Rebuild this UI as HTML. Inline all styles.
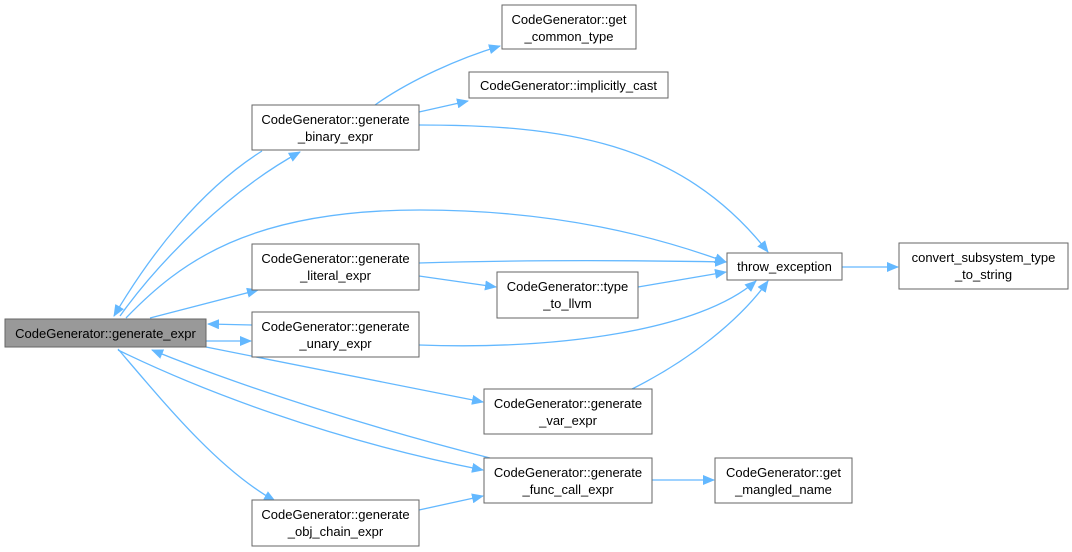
<!DOCTYPE html>
<html><head><meta charset="utf-8"><style>
body{margin:0;background:#fff;}
svg{display:block;}
text{font-family:"Liberation Sans",sans-serif;font-size:13px;fill:#000;text-anchor:middle;}
.n{fill:#fff;stroke:#666;stroke-width:1;}
.e{fill:none;stroke:#63b8ff;stroke-width:1.3;}
</style></head><body>
<svg width="1072" height="552" viewBox="0 0 1072 552">
<defs><marker id="a" markerWidth="12" markerHeight="10" refX="11" refY="5" orient="auto" markerUnits="userSpaceOnUse"><path d="M0,0 L12,5 L0,10 z" fill="#63b8ff"/></marker></defs>
<g class="e" marker-end="url(#a)">
<path d="M120,316 C160,260 230,190 300,152"/>
<path d="M262,151 C200,190 150,255 114,316"/>
<path d="M126,318 C180,262 250,210 420,210 C560,210 660,238 726,262"/>
<path d="M150,318 L258,290"/>
<path d="M252,325 L208,324"/>
<path d="M206,341 L251,341"/>
<path d="M206,347 L483,402"/>
<path d="M490,458 C380,430 250,390 152,350"/>
<path d="M118,350 C200,390 330,440 483,470"/>
<path d="M118,349 C170,410 220,470 275,501"/>
<path d="M419,510 L483,496"/>
<path d="M652,480 L714,480"/>
<path d="M632,389 C690,360 740,320 768,281"/>
<path d="M419,345 C560,350 700,330 756,281"/>
<path d="M419,263 C520,260 620,260 726,262"/>
<path d="M419,276 L496,287"/>
<path d="M638,287 L726,272"/>
<path d="M842,267 L898,267"/>
<path d="M375,105 C410,80 460,58 500,46"/>
<path d="M419,112 L468,101"/>
<path d="M419,125 C560,125 680,140 768,252"/>
</g>
<rect x="5" y="319" width="201" height="28" fill="#999" stroke="#666"/>
<text x="105.5" y="338">CodeGenerator::generate_expr</text>
<rect class="n" x="252" y="105" width="167" height="45"/><text x="335.5" y="124">CodeGenerator::generate</text><text x="335.5" y="141">_binary_expr</text>
<rect class="n" x="502" y="5" width="134" height="44"/><text x="569" y="24">CodeGenerator::get</text><text x="569" y="41">_common_type</text>
<rect class="n" x="469" y="72" width="199" height="26"/><text x="568.5" y="90">CodeGenerator::implicitly_cast</text>
<rect class="n" x="252" y="244" width="167" height="46"/><text x="335.5" y="263">CodeGenerator::generate</text><text x="335.5" y="280">_literal_expr</text>
<rect class="n" x="497" y="272" width="141" height="46"/><text x="567.5" y="291">CodeGenerator::type</text><text x="567.5" y="308">_to_llvm</text>
<rect class="n" x="727" y="253" width="115" height="27"/><text x="784.5" y="271">throw_exception</text>
<rect class="n" x="899" y="243" width="169" height="46"/><text x="983.5" y="262">convert_subsystem_type</text><text x="983.5" y="279">_to_string</text>
<rect class="n" x="252" y="312" width="167" height="45"/><text x="335.5" y="331">CodeGenerator::generate</text><text x="335.5" y="348">_unary_expr</text>
<rect class="n" x="484" y="389" width="168" height="45"/><text x="568" y="408">CodeGenerator::generate</text><text x="568" y="425">_var_expr</text>
<rect class="n" x="484" y="458" width="168" height="45"/><text x="568" y="477">CodeGenerator::generate</text><text x="568" y="494">_func_call_expr</text>
<rect class="n" x="715" y="458" width="137" height="45"/><text x="783.5" y="477">CodeGenerator::get</text><text x="783.5" y="494">_mangled_name</text>
<rect class="n" x="252" y="500" width="167" height="46"/><text x="335.5" y="519">CodeGenerator::generate</text><text x="335.5" y="536">_obj_chain_expr</text>
</svg>
</body></html>
